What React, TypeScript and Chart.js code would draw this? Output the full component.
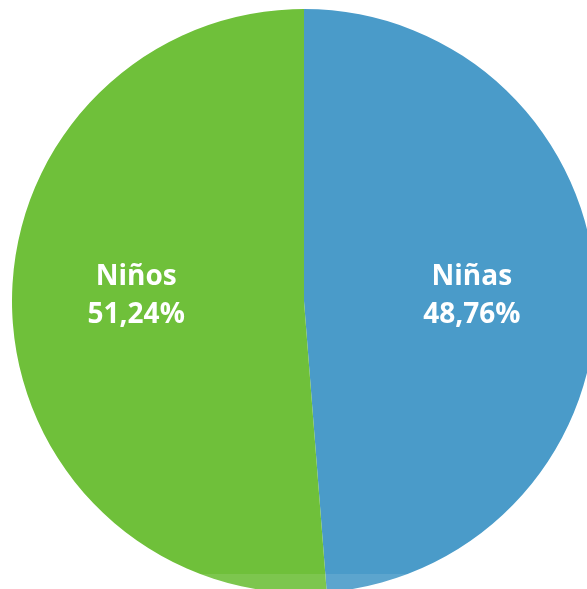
import React, { useEffect, useRef } from "react";
import { Chart, registerables } from "chart.js";

Chart.register(...registerables);

const categories = ["Niñas", "Niños"];
const values = [48.76, 51.24];
const valueLabels = ["48,76%", "51,24%"];
const colors = ["#4A9BC9", "#6FC03A"];

const labelPlugin = {
  id: "sliceLabels",
  afterDatasetsDraw(chart: any) {
    const ctx = chart.ctx;
    const meta = chart.getDatasetMeta(0);
    ctx.save();
    ctx.fillStyle = "#ffffff";
    ctx.font = "bold 28px 'Open Sans'";
    ctx.textAlign = "center";
    ctx.textBaseline = "alphabetic";
    meta.data.forEach((arc: any, i: number) => {
      const p = arc.getProps(["startAngle", "endAngle", "outerRadius", "x", "y"], true);
      const mid = (p.startAngle + p.endAngle) / 2;
      const r = p.outerRadius * 0.575;
      const cx = p.x + Math.cos(mid) * r;
      const cy = p.y;
      ctx.fillText(categories[i], cx, cy - 16);
      ctx.fillText(valueLabels[i], cx, cy + 22);
    });
    ctx.restore();
  },
};

export default function App() {
  const ref = useRef<HTMLCanvasElement>(null);
  useEffect(() => {
    if (!ref.current) return;
    const chart = new Chart(ref.current, {
      type: "pie",
      data: {
        labels: categories,
        datasets: [
          {
            data: values,
            backgroundColor: colors,
            borderWidth: 0,
          },
        ],
      },
      options: {
        animation: false,
        responsive: false,
        maintainAspectRatio: false,
        layout: { padding: 9 },
        plugins: {
          legend: { display: false },
          tooltip: { enabled: false },
        },
      },
      plugins: [labelPlugin],
    });
    return () => chart.destroy();
  }, []);
  return (
    <div
      style={{
        position: "fixed",
        left: 0,
        top: 0,
        width: "100vw",
        height: "100vh",
        overflow: "hidden",
        background: "#ffffff",
      }}
    >
      <canvas
        ref={ref}
        width={608}
        height={602}
        style={{ position: "absolute", left: 0, top: 0, width: 608, height: 602 }}
      />
      <div
        style={{
          position: "absolute",
          left: 0,
          top: 574,
          width: "100%",
          height: 20,
          background: "rgba(255,255,255,0.1)",
        }}
      />
    </div>
  );
}
